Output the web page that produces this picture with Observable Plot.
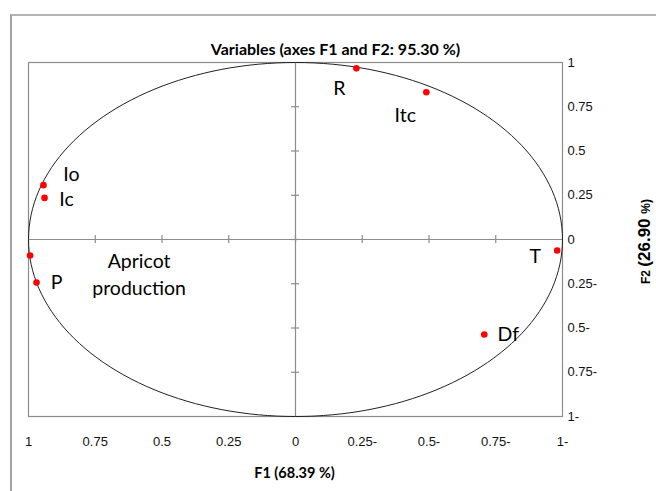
<!DOCTYPE html>
<html><head><meta charset="utf-8">
<script src="https://cdn.jsdelivr.net/npm/d3@7"></script>
<script src="https://cdn.jsdelivr.net/npm/@observablehq/plot@0.6"></script>
<style>
body{margin:0;background:#fff;}
#wrap{position:relative;width:656px;height:491px;overflow:hidden;}
#frame{position:absolute;left:10px;top:14px;width:660px;height:500px;border-left:2px solid #a3a3a3;border-top:2px solid #b3b3b3;}
#chart{position:absolute;left:0;top:0;}
</style></head><body>
<div id="wrap"><div id="frame"></div><div id="chart"></div></div>
<script>
// Variables and their loadings on F1 / F2
const variables = ["R", "Itc", "Io", "Ic", "Apricot production", "P", "T", "Df"];
const f1 = [0.228, 0.490, -0.944, -0.940, -0.994, -0.970, 0.980, 0.707];
const f2 = [0.967, 0.832, 0.307, 0.235, -0.090, -0.243, -0.062, -0.537];

// Tick values and their printed labels (as shown in the source, RTL style)
const xTicks = [-1, -0.75, -0.5, -0.25, 0, 0.25, 0.5, 0.75, 1];
const xTickLabels = ["1", "0.75", "0.5", "0.25", "0", "0.25-", "0.5-", "0.75-", "1-"];
const yTicks = [-1, -0.75, -0.5, -0.25, 0, 0.25, 0.5, 0.75, 1];
const yTickLabels = ["1-", "0.75-", "0.5-", "0.25-", "0", "0.25", "0.5", "0.75", "1"];
const innerTicks = [-0.75, -0.5, -0.25, 0, 0.25, 0.5, 0.75];

const title = "Variables (axes F1 and F2: 95.30 %)";
const xTitle = "F1 (68.39 %)";
const yTitle = "F2 (26.90 %)";

// correlation circle (unit circle), drawn through the scales
const circleAngles = d3.range(0, 361, 2);

// label offsets (px) relative to each point
const labelOffsets = [[-17, 18], [-21, 21], [28, -13], [22, -1], [109, 17], [20, -2], [-22, 4], [24, -2]];

const gray = "#8c8c8c";
const labelFont = "Lato, 'Open Sans', sans-serif";
const tickFont = "'Liberation Sans', Arial, sans-serif";

const plot = Plot.plot({
  width: 656, height: 491,
  marginLeft: 28, marginRight: 94, marginTop: 62, marginBottom: 75,
  x: {domain: [-1, 1]},
  y: {domain: [-1, 1]},
  style: {background: "transparent", fontFamily: tickFont, overflow: "visible"},
  marks: [
    Plot.frame({stroke: gray, strokeWidth: 1.2}),
    Plot.ruleX([0], {stroke: gray, strokeWidth: 1.2}),
    Plot.ruleY([0], {stroke: gray, strokeWidth: 1.2}),
    Plot.ruleX(innerTicks, {x: d => d, y1: 0, y2: 0, insetTop: -4, insetBottom: -4, stroke: gray, strokeWidth: 1.2}),
    Plot.ruleY(innerTicks, {y: d => d, x1: 0, x2: 0, insetLeft: -4, insetRight: -4, stroke: gray, strokeWidth: 1.2}),
    Plot.line(circleAngles, {x: a => Math.cos(a * Math.PI / 180), y: a => Math.sin(a * Math.PI / 180), stroke: "#222", strokeWidth: 1}),
    Plot.dot(variables, {x: (d, i) => f1[i], y: (d, i) => f2[i], r: 3.3, fill: "#ff0000", stroke: "none"}),
    ...variables.map((v, i) => Plot.text([v], {
      x: () => f1[i], y: () => f2[i], text: d => d.replace(" ", "\n"),
      dx: labelOffsets[i][0], dy: labelOffsets[i][1],
      fontSize: 19.5, fontFamily: labelFont, fill: "#000", lineHeight: 1.4
    })),
    Plot.axisX(xTicks, {anchor: "bottom", tickSize: 0, tickPadding: 20, label: null,
      tickFormat: d => xTickLabels[xTicks.indexOf(d)], fontSize: 13, fill: "#111"}),
    Plot.axisY(yTicks, {anchor: "right", tickSize: 0, tickPadding: 5, label: null,
      tickFormat: d => yTickLabels[yTicks.indexOf(d)], fontSize: 13, fill: "#111", textAnchor: "start"}),
    Plot.text([title], {frameAnchor: "top", dx: 40, dy: -19, fontWeight: "bold", fontSize: 16, fontFamily: labelFont, fill: "#000"}),
    Plot.text([xTitle], {frameAnchor: "bottom", dx: -1, dy: 61, fontWeight: "bold", fontSize: 14.5, fontFamily: labelFont, fill: "#000"}),
    Plot.text([yTitle], {frameAnchor: "right", textAnchor: "middle", dx: 83, dy: 2, rotate: -90, fontWeight: "bold", fontSize: 13, fontFamily: tickFont, fill: "#000"})
  ]
});
document.getElementById("chart").appendChild(plot);

// mixed font sizes in the F2 title, as in the source
d3.select(plot).selectAll("text").filter(function() { return this.textContent === yTitle; })
  .each(function() {
    const t = d3.select(this);
    t.text(null);
    t.append("tspan").attr("font-size", 12).text("F2 ");
    t.append("tspan").attr("font-size", 17).text("(26.90 ");
    t.append("tspan").attr("font-size", 12).text("%)");
  });
</script>
</body></html>
